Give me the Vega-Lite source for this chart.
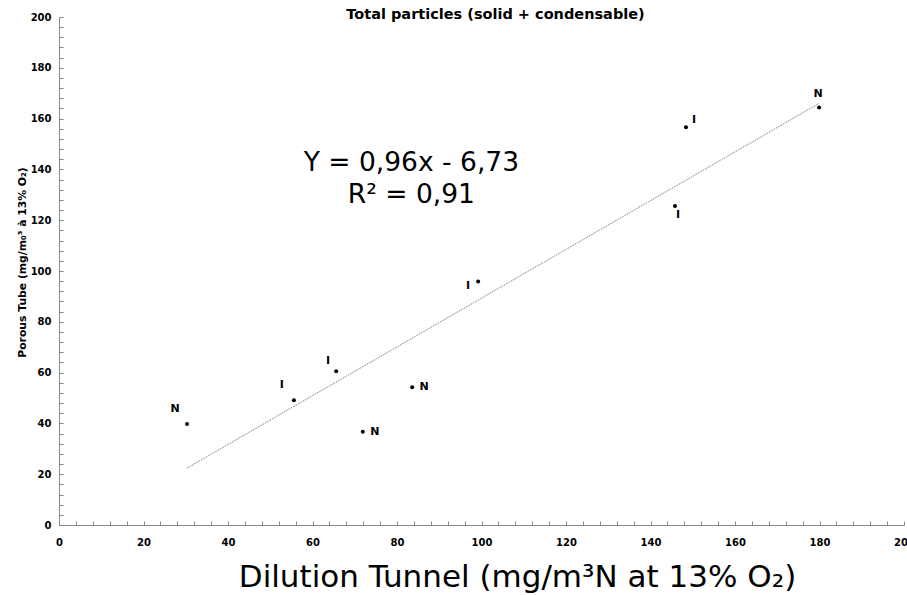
{
  "$schema": "https://vega.github.io/schema/vega-lite/v6.json",
  "autosize": {"type": "none"},
  "padding": {"left": 59, "top": 17, "right": 3, "bottom": 70},
  "width": 845,
  "height": 508,
  "background": "white",
  "config": {"view": {"stroke": null}, "font": "DejaVu Sans"},
  "title": {"text": "Total particles (solid + condensable)", "font": "DejaVu Sans", "fontSize": 14.5, "fontWeight": "bold", "color": "#000000", "anchor": "middle", "dx": 14, "offset": -10},
  "datasets": {
    "points": [
      {"id": 1, "tunnel": 30.3, "tube": 39.8, "type": "N"},
      {"id": 2, "tunnel": 55.6, "tube": 49.1, "type": "I"},
      {"id": 3, "tunnel": 65.6, "tube": 60.5, "type": "I"},
      {"id": 4, "tunnel": 71.9, "tube": 36.7, "type": "N"},
      {"id": 5, "tunnel": 83.6, "tube": 54.2, "type": "N"},
      {"id": 6, "tunnel": 99.2, "tube": 95.9, "type": "I"},
      {"id": 7, "tunnel": 145.8, "tube": 125.6, "type": "I"},
      {"id": 8, "tunnel": 148.4, "tube": 156.6, "type": "I"},
      {"id": 9, "tunnel": 179.9, "tube": 164.4, "type": "N"}
    ],
    "trend": [
      {"tunnel": 30.3, "tube": 22.4},
      {"tunnel": 179.9, "tube": 166.0}
    ],
    "equation": [
      {"tunnel": 83.4, "tube": 142.5, "text": "Y = 0,96x - 6,73"},
      {"tunnel": 83.4, "tube": 129.9, "text": "R² = 0,91"}
    ]
  },
  "layer": [
    {
      "data": {"name": "trend"},
      "mark": {"type": "line", "color": "#666666", "strokeWidth": 1, "strokeDash": [1, 1]},
      "encoding": {
        "x": {"field": "tunnel", "type": "quantitative",
          "scale": {"domain": [0, 200], "nice": false},
          "axis": {
            "values": [0,4,8,12,16,20,24,28,32,36,40,44,48,52,56,60,64,68,72,76,80,84,88,92,96,100,104,108,112,116,120,124,128,132,136,140,144,148,152,156,160,164,168,172,176,180,184,188,192,196,200],
            "tickCount": 200,
            "labelExpr": "datum.value % 20 === 0 ? datum.label : ''",
            "labelOverlap": false,
            "labelFlush": false,
            "grid": false,
            "domainColor": "#888888",
            "tickColor": "#888888",
            "tickSize": -4,
            "labelFont": "DejaVu Sans", "labelFontSize": 10, "labelFontWeight": "bold", "labelColor": "#000000",
            "labelPadding": 16,
            "labelBaseline": "top",
            "title": "Dilution Tunnel (mg/m³N at 13% O₂)",
            "titleFont": "DejaVu Sans", "titleFontSize": 31, "titleFontWeight": "normal", "titleColor": "#000000",
            "titleX": 458, "titleY": 52, "titleAlign": "center", "titleBaseline": "middle"
          }
        },
        "y": {"field": "tube", "type": "quantitative",
          "scale": {"domain": [0, 200], "nice": false},
          "axis": {
            "values": [0,4,8,12,16,20,24,28,32,36,40,44,48,52,56,60,64,68,72,76,80,84,88,92,96,100,104,108,112,116,120,124,128,132,136,140,144,148,152,156,160,164,168,172,176,180,184,188,192,196,200],
            "tickCount": 200,
            "labelExpr": "datum.value % 20 === 0 ? datum.label : ''",
            "labelOverlap": false,
            "labelFlush": false,
            "grid": false,
            "domainColor": "#888888",
            "tickColor": "#888888",
            "tickSize": -4,
            "labelFont": "DejaVu Sans", "labelFontSize": 10, "labelFontWeight": "bold", "labelColor": "#000000",
            "labelPadding": 12,
            "title": "Porous Tube (mg/m₀³ à 13% O₂)",
            "titleFont": "DejaVu Sans", "titleFontSize": 10.8, "titleFontWeight": "bold", "titleColor": "#000000",
            "titleAngle": -90, "titleX": -37, "titleY": 245, "titleAlign": "center", "titleBaseline": "middle"
          }
        }
      }
    },
    {
      "data": {"name": "points"},
      "mark": {"type": "circle", "color": "#000000", "opacity": 1, "size": 16},
      "encoding": {
        "x": {"field": "tunnel", "type": "quantitative"},
        "y": {"field": "tube", "type": "quantitative"}
      }
    },
    {
      "data": {"name": "points"},
      "transform": [{"filter": "datum.id == 1 || datum.id == 2"}],
      "mark": {"type": "text", "font": "DejaVu Sans", "fontSize": 11, "fontWeight": "bold", "color": "#000000", "dx": -12, "dy": -15},
      "encoding": {"x": {"field": "tunnel", "type": "quantitative"}, "y": {"field": "tube", "type": "quantitative"}, "text": {"field": "type"}}
    },
    {
      "data": {"name": "points"},
      "transform": [{"filter": "datum.id == 3"}],
      "mark": {"type": "text", "font": "DejaVu Sans", "fontSize": 11, "fontWeight": "bold", "color": "#000000", "dx": -8, "dy": -10},
      "encoding": {"x": {"field": "tunnel", "type": "quantitative"}, "y": {"field": "tube", "type": "quantitative"}, "text": {"field": "type"}}
    },
    {
      "data": {"name": "points"},
      "transform": [{"filter": "datum.id == 4 || datum.id == 5"}],
      "mark": {"type": "text", "font": "DejaVu Sans", "fontSize": 11, "fontWeight": "bold", "color": "#000000", "dx": 12, "dy": 0},
      "encoding": {"x": {"field": "tunnel", "type": "quantitative"}, "y": {"field": "tube", "type": "quantitative"}, "text": {"field": "type"}}
    },
    {
      "data": {"name": "points"},
      "transform": [{"filter": "datum.id == 6"}],
      "mark": {"type": "text", "font": "DejaVu Sans", "fontSize": 11, "fontWeight": "bold", "color": "#000000", "dx": -10, "dy": 5},
      "encoding": {"x": {"field": "tunnel", "type": "quantitative"}, "y": {"field": "tube", "type": "quantitative"}, "text": {"field": "type"}}
    },
    {
      "data": {"name": "points"},
      "transform": [{"filter": "datum.id == 7"}],
      "mark": {"type": "text", "font": "DejaVu Sans", "fontSize": 11, "fontWeight": "bold", "color": "#000000", "dx": 3, "dy": 9},
      "encoding": {"x": {"field": "tunnel", "type": "quantitative"}, "y": {"field": "tube", "type": "quantitative"}, "text": {"field": "type"}}
    },
    {
      "data": {"name": "points"},
      "transform": [{"filter": "datum.id == 8"}],
      "mark": {"type": "text", "font": "DejaVu Sans", "fontSize": 11, "fontWeight": "bold", "color": "#000000", "dx": 8, "dy": -7},
      "encoding": {"x": {"field": "tunnel", "type": "quantitative"}, "y": {"field": "tube", "type": "quantitative"}, "text": {"field": "type"}}
    },
    {
      "data": {"name": "points"},
      "transform": [{"filter": "datum.id == 9"}],
      "mark": {"type": "text", "font": "DejaVu Sans", "fontSize": 11, "fontWeight": "bold", "color": "#000000", "dx": -1, "dy": -13},
      "encoding": {"x": {"field": "tunnel", "type": "quantitative"}, "y": {"field": "tube", "type": "quantitative"}, "text": {"field": "type"}}
    },
    {
      "data": {"name": "equation"},
      "mark": {"type": "text", "font": "DejaVu Sans", "fontSize": 26.5, "color": "#000000", "align": "center", "baseline": "middle"},
      "encoding": {"x": {"field": "tunnel", "type": "quantitative"}, "y": {"field": "tube", "type": "quantitative"}, "text": {"field": "text"}}
    }
  ]
}
